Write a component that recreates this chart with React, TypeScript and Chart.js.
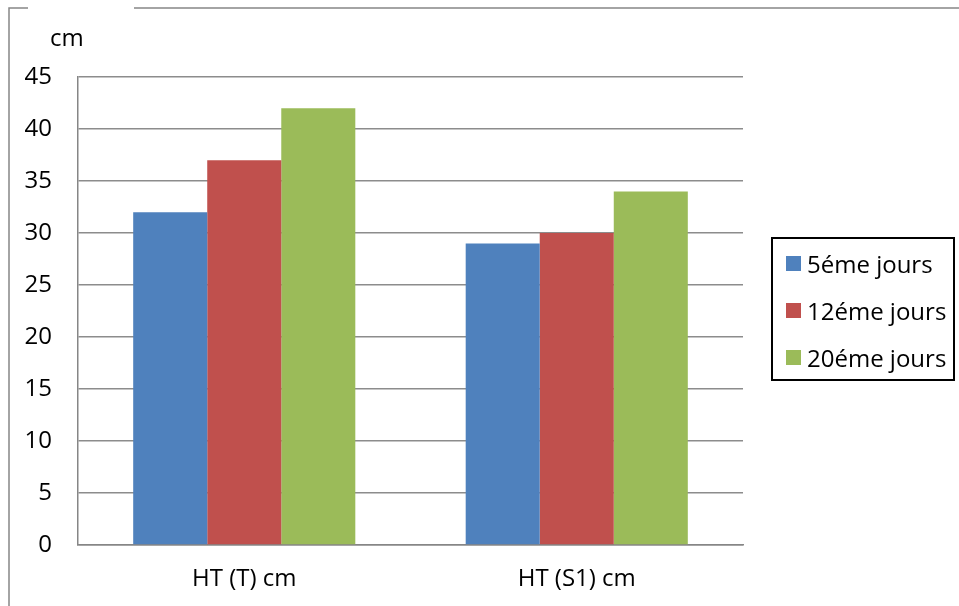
import { useEffect, useRef } from "react";
import { Chart, registerables } from "chart.js";

Chart.register(...registerables);

// données
const categories = ["HT (T) cm", "HT (S1) cm"];
const seriesNames = ["5éme jours", "12éme jours", "20éme jours"];
const jour5 = [32, 29];
const jour12 = [37, 30];
const jour20 = [42, 34];
const seriesColors = ["#4F81BD", "#C0504D", "#9BBB59"];
const yMax = 45;
const yStep = 5;
const yUnit = "cm";

const FONT = "'Open Sans', sans-serif";

// cadre gris + unité "cm" au-dessus de l'axe
const decorPlugin = {
  id: "decor",
  afterDraw(chart: Chart) {
    const ctx = chart.ctx;
    ctx.save();
    ctx.strokeStyle = "#878787";
    ctx.lineWidth = 1.5;
    ctx.beginPath();
    ctx.moveTo(9, 606);
    ctx.lineTo(9, 8);
    ctx.lineTo(28, 8);
    ctx.moveTo(134, 8);
    ctx.lineTo(959, 8);
    ctx.stroke();

    ctx.fillStyle = "#000";
    ctx.font = "24px " + FONT;
    ctx.textBaseline = "middle";
    ctx.fillText(yUnit, 50, 39);
    ctx.restore();
  },
};

export default function App() {
  const chartRef = useRef<HTMLCanvasElement | null>(null);
  const chartInstanceRef = useRef<Chart | null>(null);

  useEffect(() => {
    document.body.style.margin = "0";
    if (chartInstanceRef.current) chartInstanceRef.current.destroy();
    if (!chartRef.current) return;

    const series = [jour5, jour12, jour20];
    chartInstanceRef.current = new Chart(chartRef.current, {
      type: "bar",
      data: {
        labels: categories,
        datasets: series.map((values, i) => ({
          label: seriesNames[i],
          data: values,
          backgroundColor: seriesColors[i],
          borderWidth: 0,
          barPercentage: 1,
          categoryPercentage: 0.668,
        })),
      },
      options: {
        animation: false,
        responsive: false,
        maintainAspectRatio: false,
        layout: { padding: { top: 77, right: 216, bottom: 0, left: 0 } },
        plugins: {
          legend: { display: false },
          tooltip: { enabled: false },
        },
        scales: {
          x: {
            grid: { display: false, drawTicks: false },
            border: { display: true, color: "#868686", width: 1.5 },
            ticks: { color: "#000", font: { family: FONT, size: 24 }, padding: 20 },
            afterFit: (scale: any) => {
              scale.height = 61;
            },
          },
          y: {
            min: 0,
            max: yMax,
            grid: { color: "#8c8c8c", lineWidth: 1.5, drawTicks: false },
            border: { display: true, color: "#868686", width: 1.5 },
            ticks: { stepSize: yStep, color: "#000", font: { family: FONT, size: 24 }, padding: 26 },
            afterFit: (scale: any) => {
              scale.width = 78;
            },
          },
        },
      },
      plugins: [decorPlugin],
    });

    return () => {
      if (chartInstanceRef.current) {
        chartInstanceRef.current.destroy();
        chartInstanceRef.current = null;
      }
    };
  }, []);

  return (
    <div style={{ position: "relative", width: 959, height: 606, background: "#fff" }}>
      <canvas ref={chartRef} width={959} height={606}></canvas>
      {/* légende */}
      <div
        style={{
          position: "absolute",
          left: 771,
          top: 237,
          width: 184,
          height: 144,
          boxSizing: "border-box",
          border: "2px solid #000",
          paddingTop: 1,
          fontFamily: FONT,
          fontSize: 24,
        }}
      >
        {seriesNames.map((name, i) => (
          <div key={name} style={{ display: "flex", alignItems: "center", height: 47 }}>
            <span
              style={{
                display: "inline-block",
                width: 15,
                height: 15,
                marginLeft: 13,
                marginRight: 6,
                background: seriesColors[i],
              }}
            ></span>
            <span style={{ lineHeight: "28px", whiteSpace: "nowrap" }}>{name}</span>
          </div>
        ))}
      </div>
    </div>
  );
}
